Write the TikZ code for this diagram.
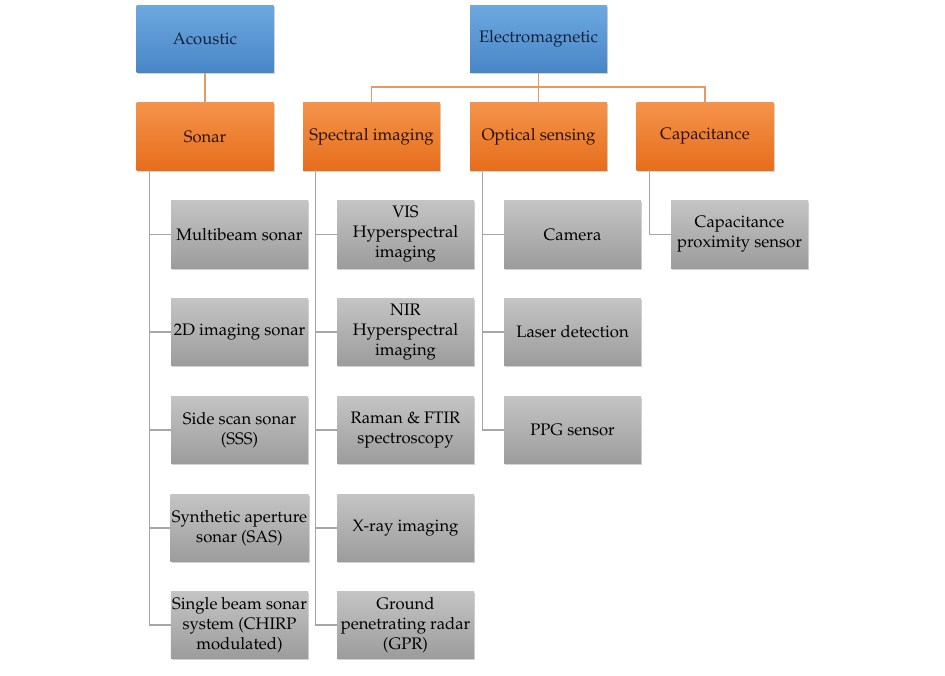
\documentclass[tikz,border=0pt]{standalone}
\usepackage[T1]{fontenc}
\usepackage{palatino}
\usetikzlibrary{shadows,calc}
\definecolor{bluetop}{HTML}{6DA8E0}
\definecolor{bluebot}{HTML}{4786C6}
\definecolor{orangetop}{HTML}{F4934A}
\definecolor{orangebot}{HTML}{E66E1C}
\definecolor{graytop}{HTML}{C4C4C4}
\definecolor{graybot}{HTML}{9C9C9C}
\definecolor{navytext}{HTML}{14213D}
\definecolor{browntext}{HTML}{2A1208}
\definecolor{orangeline}{HTML}{E39A66}
\definecolor{grayline}{HTML}{A6A6A6}
\begin{document}
\begin{tikzpicture}[x=0.75pt,y=-0.75pt,
  boxbase/.style={rectangle, minimum width=102.75pt, minimum height=50.5pt, inner sep=1pt,
    align=center, font=\fontsize{12.5}{15}\selectfont,
    drop shadow={opacity=0.35, shadow xshift=0.8pt, shadow yshift=-1.2pt}},
  bluebox/.style={boxbase, top color=bluetop, bottom color=bluebot, text=navytext},
  orangebox/.style={boxbase, top color=orangetop, bottom color=orangebot, text=browntext},
  graybox/.style={boxbase, top color=graytop, bottom color=graybot, text=black},
  oline/.style={draw=orangeline, line width=1.1pt},
  gline/.style={draw=grayline, line width=1.1pt}]
\useasboundingbox[fill=white] (0,0) rectangle (945,675);
% top level
\node[bluebox] (acou) at (205,39) {Acoustic};
\node[bluebox] (elec) at (538.5,39) {Electromagnetic};
% second level
\node[orangebox] (sonar) at (205,136.5) {Sonar};
\node[orangebox] (spec) at (371.5,136.5) {Spectral imaging};
\node[orangebox] (opt) at (538.5,136.5) {Optical sensing};
\node[orangebox] (cap) at (705,136.5) {Capacitance};
% sonar children
\node[graybox] (s1) at (239.5,234.5) {Multibeam sonar};
\node[graybox] (s2) at (239.5,332) {2D imaging sonar};
\node[graybox] (s3) at (239.5,430) {Side scan sonar\\(SSS)};
\node[graybox] (s4) at (239.5,528) {Synthetic aperture\\sonar (SAS)};
\node[graybox] (s5) at (239.5,625) {Single beam sonar\\system (CHIRP\\modulated)};
% spectral children
\node[graybox] (p1) at (405.5,234.5) {VIS\\Hyperspectral\\imaging};
\node[graybox] (p2) at (405.5,332) {NIR\\Hyperspectral\\imaging};
\node[graybox] (p3) at (405.5,430) {Raman \& FTIR\\spectroscopy};
\node[graybox] (p4) at (405.5,528) {X-ray imaging};
\node[graybox] (p5) at (405.5,625) {Ground\\penetrating radar\\(GPR)};
% optical children
\node[graybox] (o1) at (572.5,234.5) {Camera};
\node[graybox] (o2) at (572.5,332) {Laser detection};
\node[graybox] (o3) at (572.5,430) {PPG sensor};
% capacitance child
\node[graybox] (c1) at (739.5,234.5) {Capacitance\\proximity sensor};
% connectors
\path[oline] (acou.south) -- (sonar.north);
\coordinate (bus) at ($(elec.south)+(0,14)$);
\path[oline] (elec.south) -- (bus);
\path[oline] (bus) -| (spec.north);
\path[oline] (bus) -| (cap.north);
\path[oline] (bus) -- (opt.north);
\foreach \c in {s1,s2,s3,s4,s5}{\path[gline] ($(sonar.south west)+(13,0)$) |- (\c.west);}
\foreach \c in {p1,p2,p3,p4,p5}{\path[gline] ($(spec.south west)+(13,0)$) |- (\c.west);}
\foreach \c in {o1,o2,o3}{\path[gline] ($(opt.south west)+(13,0)$) |- (\c.west);}
\path[gline] ($(cap.south west)+(13,0)$) |- (c1.west);
\end{tikzpicture}
\end{document}
